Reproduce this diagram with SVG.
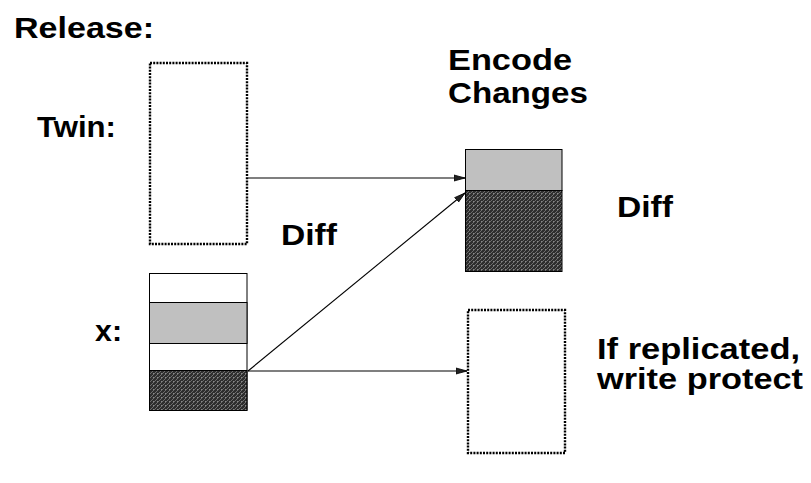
<svg xmlns="http://www.w3.org/2000/svg" width="811" height="483" viewBox="0 0 811 483">
<defs>
<pattern id="hatch" width="4" height="4" patternUnits="userSpaceOnUse">
<rect width="4" height="4" fill="#2e2e2e"/>
<path d="M0,4 L4,0 M-1,1 L1,-1 M3,5 L5,3" stroke="#8a8a8a" stroke-width="0.7"/>
<rect x="1" y="1" width="0.8" height="0.8" fill="#bbb"/>
</pattern>
<marker id="arr" markerWidth="12" markerHeight="8" refX="11" refY="4" orient="auto" markerUnits="userSpaceOnUse">
<path d="M0,1 L11,4 L0,7 Z" fill="#222" stroke="#000" stroke-width="0.8"/>
</marker>
<style>
text{font-family:"Liberation Sans",Arial,sans-serif;font-weight:bold;font-size:30px;fill:#000}
.dot{fill:none;stroke:#000;stroke-width:2.4;stroke-dasharray:2 1.2}
.solid{stroke:#000;stroke-width:1}
.conn{stroke:#000;stroke-width:1.1;fill:none;marker-end:url(#arr)}
</style>
</defs>
<rect width="811" height="483" fill="#fff"/>
<g id="labels">
<text x="14" y="38" textLength="140" lengthAdjust="spacingAndGlyphs">Release:</text>
<text x="37" y="137" textLength="79" lengthAdjust="spacingAndGlyphs">Twin:</text>
<text x="448" y="70" textLength="124" lengthAdjust="spacingAndGlyphs">Encode</text>
<text x="448" y="103" textLength="140" lengthAdjust="spacingAndGlyphs">Changes</text>
<text x="281" y="245" textLength="56" lengthAdjust="spacingAndGlyphs">Diff</text>
<text x="617" y="217" textLength="56" lengthAdjust="spacingAndGlyphs">Diff</text>
<text x="95" y="341" textLength="27" lengthAdjust="spacingAndGlyphs">x:</text>
<text x="597" y="359" textLength="203" lengthAdjust="spacingAndGlyphs">If replicated,</text>
<text x="597" y="389" textLength="206" lengthAdjust="spacingAndGlyphs">write protect</text>
</g>
<g id="twin">
<rect class="dot" x="150" y="63" width="97" height="181"/>
</g>
<g id="x">
<rect class="solid" x="149.5" y="273.5" width="97.5" height="136.5" fill="#fff"/>
<rect class="solid" x="149.5" y="302.5" width="97.5" height="41" fill="#c0c0c0"/>
<rect class="solid" x="149.5" y="370.5" width="97.5" height="40" fill="url(#hatch)"/>
</g>
<g id="encode">
<rect class="solid" x="465.5" y="149.5" width="96.5" height="41" fill="#c0c0c0"/>
<rect class="solid" x="465.5" y="190.5" width="96.5" height="81" fill="url(#hatch)"/>
</g>
<g id="copy">
<rect class="dot" x="468" y="310" width="97" height="143"/>
</g>
<g id="connectors">
<line class="conn" x1="248" y1="178" x2="465" y2="178"/>
<line class="conn" x1="248" y1="371" x2="465" y2="193"/>
<line class="conn" x1="248" y1="371" x2="467" y2="371"/>
</g>
</svg>
